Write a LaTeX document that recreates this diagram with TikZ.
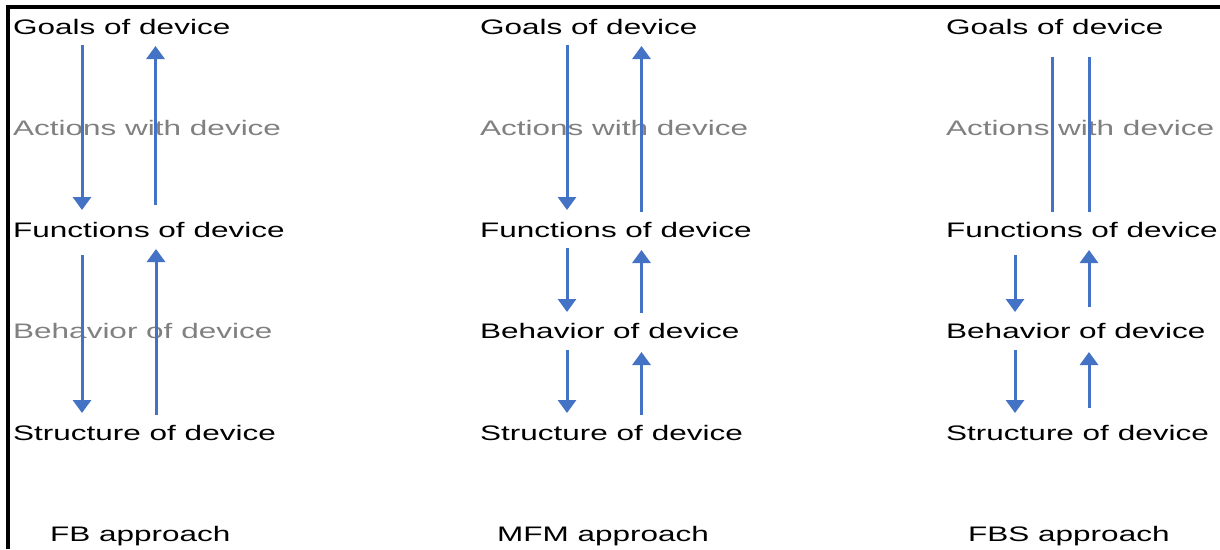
\documentclass[tikz,border=0pt]{standalone}
\usepackage{fontspec}
\setmainfont{Liberation Sans}[FakeStretch=1.50]
\usetikzlibrary{arrows.meta,calc}
\definecolor{arrowblue}{RGB}{68,114,196}
\definecolor{fadegray}{RGB}{128,128,128}
\begin{document}
\begin{tikzpicture}[x=1pt,y=-1pt,
  lbl/.style={anchor=base west,inner sep=0pt,font=\fontsize{21}{25}\selectfont},
  faded/.style={lbl,text=fadegray},
  link/.style={draw=arrowblue,line width=3pt},
  arr/.style={link,-{Triangle[width=18pt,length=13pt]}}]
\useasboundingbox (0,0) rectangle (1220,549);
% frame on the left and top
\draw[line width=3.5pt] (8,549) -- (8,7) -- (1220,7);

% ---- FB approach ----
\node[lbl]   (g1) at (13,34)    {Goals of device};
\node[faded] (a1) at (13,135.5) {Actions with device};
\node[lbl]   (f1) at (13,237)   {Functions of device};
\node[faded] (b1) at (13,338.5) {Behavior of device};
\node[lbl]   (s1) at (13,440)   {Structure of device};
\node[lbl]   (t1) at (50,541.5) {FB approach};
\draw[arr] ($(g1.base west)+(69,11)$)  -- ($(f1.base west)+(69,-27)$);
\draw[arr] ($(f1.base west)+(142.5,-32)$) -- ($(g1.base west)+(142.5,12)$);
\draw[arr] ($(f1.base west)+(69,18)$)  -- ($(s1.base west)+(69,-27)$);
\draw[arr] ($(s1.base west)+(143,-25)$) -- ($(f1.base west)+(143,12)$);

% ---- MFM approach ----
\node[lbl]   (g2) at (480,34)    {Goals of device};
\node[faded] (a2) at (480,135.5) {Actions with device};
\node[lbl]   (f2) at (480,237)   {Functions of device};
\node[lbl]   (b2) at (480,338.5) {Behavior of device};
\node[lbl]   (s2) at (480,440)   {Structure of device};
\node[lbl]   (t2) at (497,541.5) {MFM approach};
\draw[arr] ($(g2.base west)+(87,11)$)  -- ($(f2.base west)+(87,-27)$);
\draw[arr] ($(f2.base west)+(161.5,-25)$) -- ($(g2.base west)+(161.5,12)$);
\draw[arr] ($(f2.base west)+(87,11)$)  -- ($(b2.base west)+(87,-26.5)$);
\draw[arr] ($(b2.base west)+(161.5,-25.5)$) -- ($(f2.base west)+(161.5,13)$);
\draw[arr] ($(b2.base west)+(87,11.5)$) -- ($(s2.base west)+(87,-27)$);
\draw[arr] ($(s2.base west)+(161.5,-25)$) -- ($(b2.base west)+(161.5,13.5)$);

% ---- FBS approach ----
\node[lbl]   (g3) at (946,34)    {Goals of device};
\node[faded] (a3) at (946,135.5) {Actions with device};
\node[lbl]   (f3) at (946,237)   {Functions of device};
\node[lbl]   (b3) at (946,338.5) {Behavior of device};
\node[lbl]   (s3) at (946,440)   {Structure of device};
\node[lbl]   (t3) at (968,541.5) {FBS approach};
\draw[link] ($(g3.base west)+(106,23)$) -- ($(f3.base west)+(106,-25)$);
\draw[link] ($(g3.base west)+(143,23)$) -- ($(f3.base west)+(143,-25)$);
\draw[arr] ($(f3.base west)+(69,18)$)  -- ($(b3.base west)+(69,-26.5)$);
\draw[arr] ($(b3.base west)+(143,-31.5)$) -- ($(f3.base west)+(143,13)$);
\draw[arr] ($(b3.base west)+(69,11.5)$) -- ($(s3.base west)+(69,-27)$);
\draw[arr] ($(s3.base west)+(143,-32)$) -- ($(b3.base west)+(143,13.5)$);
\end{tikzpicture}
\end{document}
